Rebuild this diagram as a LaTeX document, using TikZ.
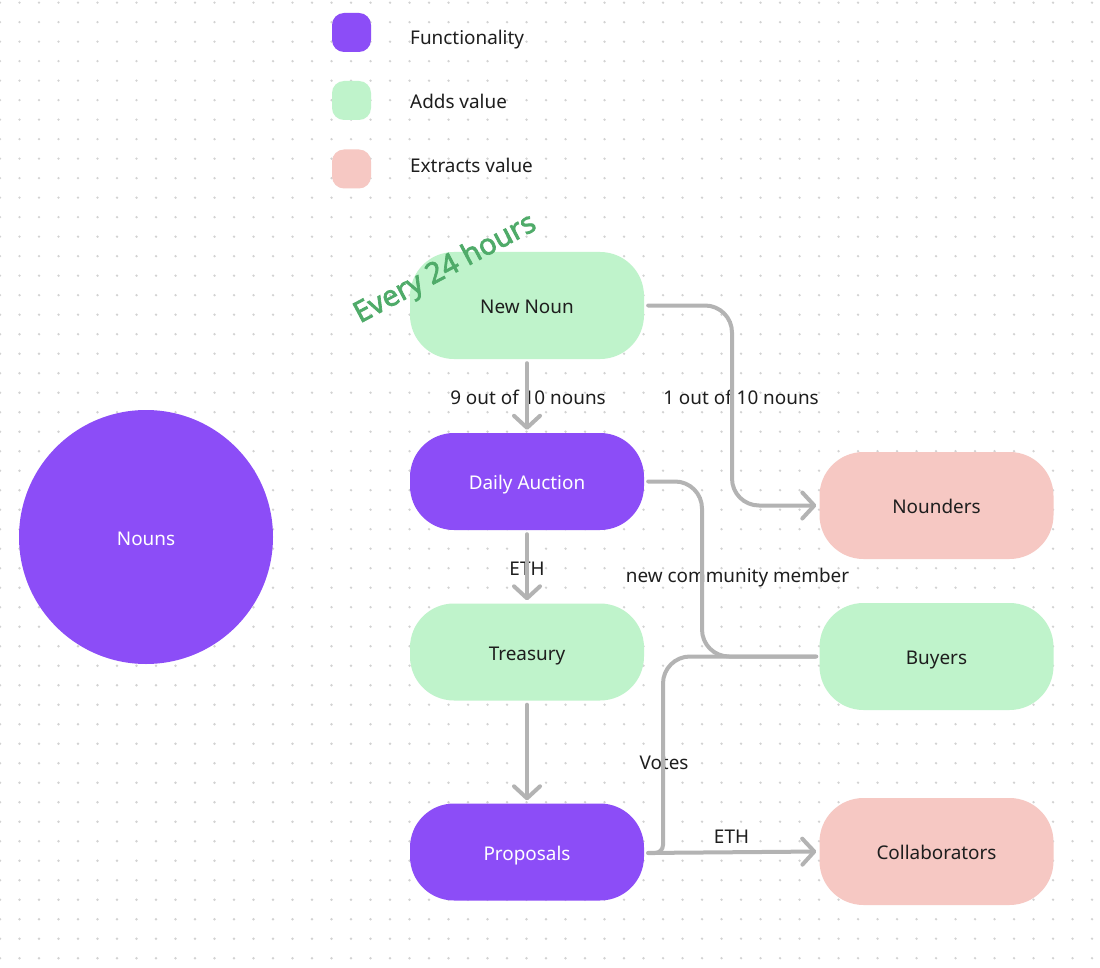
\documentclass[tikz,border=0pt]{standalone}
\usepackage{fontspec}
\setmainfont{Noto Sans}
\newfontfamily\everyfont[FakeBold=2.4]{Noto Sans}
\usetikzlibrary{arrows.meta}
\definecolor{purp}{HTML}{8C4DF7}
\definecolor{grn}{HTML}{BFF3CB}
\definecolor{pnk}{HTML}{F6C8C3}
\definecolor{ink}{HTML}{1E1E1E}
\definecolor{linec}{HTML}{B3B3B3}
\definecolor{dotc}{HTML}{D2D2D2}
\definecolor{every}{HTML}{4FAB69}
\newcommand{\lbl}{\fontsize{18.9}{22}\selectfont}
\tikzset{
  x=1pt,y=-1pt,
  box/.style={rectangle,rounded corners=44pt,minimum width=234pt,inner sep=0pt,font=\lbl,text height=16pt,text depth=0pt},
  fn/.style={box,fill=purp,text=white},
  add/.style={box,fill=grn,text=ink},
  ext/.style={box,fill=pnk,text=ink},
  key/.style={rectangle,rounded corners=12pt,minimum width=39pt,minimum height=39pt,inner sep=0pt},
  keytext/.style={anchor=west,inner sep=0pt,font=\lbl,text=ink,text height=16pt,text depth=0pt},
  edgetext/.style={inner sep=0pt,font=\lbl,text=ink,text height=16pt,text depth=0pt},
  conn/.style={draw=linec,line width=4pt,line cap=round,rounded corners=27pt,shorten <=4pt},
  tip/.style={-{Straight Barb[length=12pt,width=26pt,line width=4pt,round]},shorten >=3pt},
}
\begin{document}
\begin{tikzpicture}
\useasboundingbox (0,0) rectangle (1100,968);
\fill[white] (0,0) rectangle (1100,968);
\foreach \i in {0,...,56}{\foreach \j in {0,...,49}{
  \fill[dotc] ({\i*19.5},{2.7+\j*19.5}) circle (1.3pt);}}
% legend
\node[key,fill=purp] (k1) at (351.5,32.5) {};
\node[key,fill=grn] (k2) at (351.5,100.5) {};
\node[key,fill=pnk] (k3) at (351.5,169) {};
\node[keytext] (t1) at (410,37) {Functionality};
\node[keytext] (t2) at (410,101) {Adds value};
\node[keytext] (t3) at (410,165) {Extracts value};
% nodes
\node[circle,fill=purp,text=white,minimum size=254pt,inner sep=0pt,font=\lbl,text height=16pt,text depth=0pt] (nouns) at (146,537) {Nouns};
\node[add,minimum height=107pt] (new) at (527,305.5) {New Noun};
\node[fn,minimum height=97pt] (auction) at (527,481.5) {Daily Auction};
\node[add,minimum height=97pt] (treasury) at (527,652) {Treasury};
\node[fn,minimum height=97pt] (proposals) at (527,852) {Proposals};
\node[ext,minimum height=107pt] (nounders) at (936.5,505.5) {Nounders};
\node[add,minimum height=107pt] (buyers) at (936.5,656.5) {Buyers};
\node[ext,minimum height=107pt] (collab) at (936.5,851.5) {Collaborators};
% labels
\node[inner sep=0pt,rotate=28,font=\everyfont\fontsize{29}{34}\selectfont,text=every] (every24) at (445.5,269.5) {Every 24 hours};
\node[edgetext] (l1) at (528,396) {9 out of 10 nouns};
\node[edgetext] (l2) at (741,396) {1 out of 10 nouns};
\node[edgetext] (l3) at (527,567) {ETH};
\node[edgetext] (l4) at (737.5,574) {new community member};
\node[edgetext] (l5) at (664,761) {Votes};
\node[edgetext] (l6) at (731.5,835) {ETH};
% connectors
\coordinate (c1) at (732,400);
\coordinate (c2) at (702,570);
\coordinate (c3) at (663,760);
\draw[conn,tip] (new) -- (auction);
\draw[conn,tip] (auction) -- (treasury);
\draw[conn,tip] (treasury) -- (proposals);
\draw[conn,tip] (new.east) -| (c1) |- (nounders.west);
\draw[conn,shorten >=3pt] (auction.east) -| (c2) |- (buyers.west);
\draw[conn,shorten >=4pt] (buyers.west) -| (c3) [rounded corners=8pt] |- ([yshift=-1pt]proposals.east);
\draw[conn,tip] ([yshift=-1pt]proposals.east) -- (collab.west);
\end{tikzpicture}
\end{document}
